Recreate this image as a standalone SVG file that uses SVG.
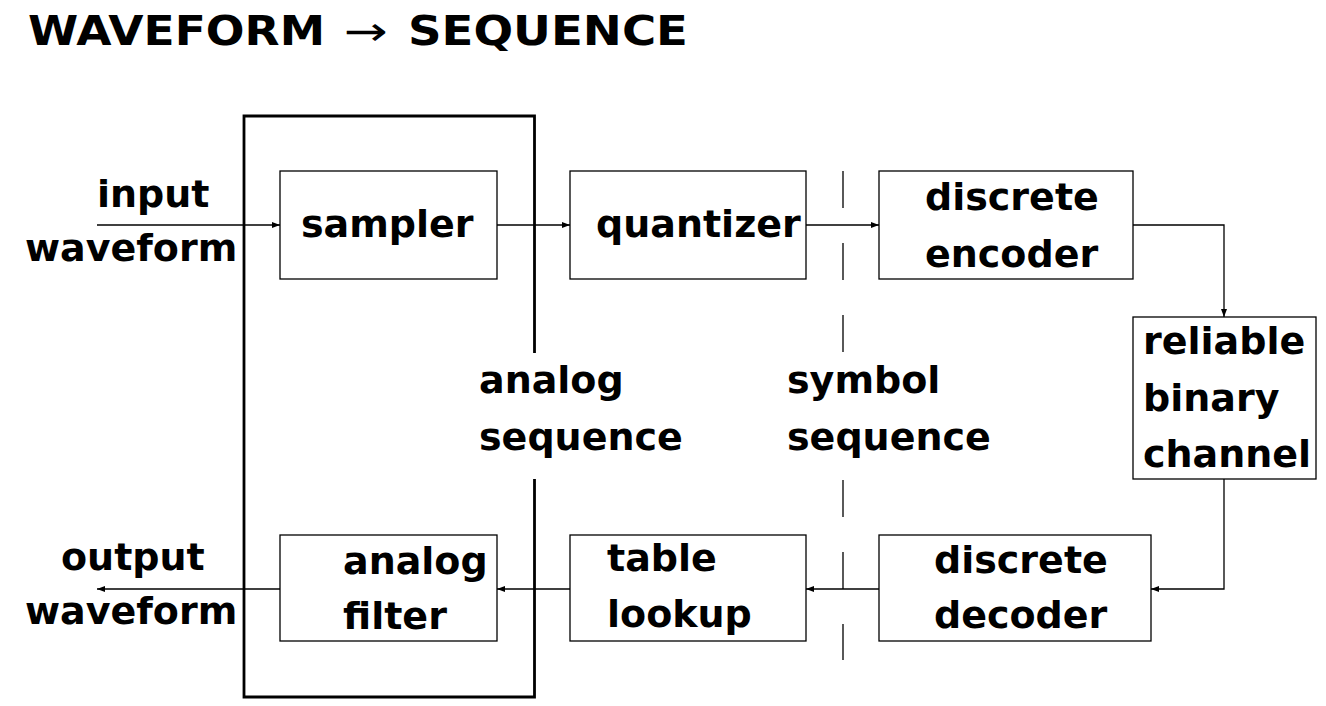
<svg xmlns="http://www.w3.org/2000/svg" width="1326" height="706" viewBox="0 0 1326 706">
<style>
  .lbl { font-family: "DejaVu Sans", "Liberation Sans", sans-serif; font-weight: bold; font-size: 38px; fill: #000; }
  .ttl { font-family: "DejaVu Sans", "Liberation Sans", sans-serif; font-weight: bold; font-size: 40px; fill: #000; }
  .arw { font-family: "DejaVu Sans", "Liberation Sans", sans-serif; font-weight: normal; font-size: 40px; fill: #000; }
  .box { fill: none; stroke: #000; stroke-width: 1.3; }
  .frame { fill: none; stroke: #000; stroke-width: 2.8; }
  .dash { fill: none; stroke: #000; stroke-width: 1.3; stroke-dasharray: 37 35; }
  .conn { fill: none; stroke: #000; stroke-width: 1.3; marker-end: url(#ah); }
</style>
<defs>
  <marker id="ah" markerUnits="userSpaceOnUse" markerWidth="9" markerHeight="7" refX="8" refY="3" orient="auto">
    <path d="M0,0 L8,3 L0,6 z" fill="#000"/>
  </marker>
</defs>
<rect width="1326" height="706" fill="#fff"/>

<g id="title">
  <text class="ttl" x="28" y="45" textLength="297" lengthAdjust="spacingAndGlyphs">WAVEFORM</text>
  <text class="arw" x="344" y="45" textLength="44" lengthAdjust="spacingAndGlyphs">→</text>
  <text class="ttl" x="408" y="45" textLength="280" lengthAdjust="spacingAndGlyphs">SEQUENCE</text>
</g>

<g id="analog-frame">
  <path class="frame" d="M534.5,353 L534.5,116 L244,116 L244,697 L534.5,697 L534.5,479"/>
</g>

<g id="symbol-divider">
  <line class="dash" x1="843" y1="171" x2="843" y2="353"/>
  <line class="dash" x1="843" y1="480" x2="843" y2="660"/>
</g>

<g id="input-label">
  <text class="lbl" x="97" y="207">input</text>
  <text class="lbl" x="25" y="261">waveform</text>
</g>
<g id="output-label">
  <text class="lbl" x="61" y="570">output</text>
  <text class="lbl" x="25" y="624">waveform</text>
</g>
<g id="analog-sequence-label">
  <text class="lbl" x="479" y="393">analog</text>
  <text class="lbl" x="479" y="450">sequence</text>
</g>
<g id="symbol-sequence-label">
  <text class="lbl" x="787" y="393">symbol</text>
  <text class="lbl" x="787" y="450">sequence</text>
</g>

<g id="sampler">
  <rect class="box" x="280" y="171" width="217" height="108"/>
  <text class="lbl" x="301" y="237">sampler</text>
</g>
<g id="quantizer">
  <rect class="box" x="570" y="171" width="236" height="108"/>
  <text class="lbl" x="596" y="237">quantizer</text>
</g>
<g id="discrete-encoder">
  <rect class="box" x="879" y="171" width="254" height="108"/>
  <text class="lbl" x="925" y="210">discrete</text>
  <text class="lbl" x="925" y="267">encoder</text>
</g>
<g id="reliable-binary-channel">
  <rect class="box" x="1133" y="317" width="183" height="162"/>
  <text class="lbl" x="1143" y="354">reliable</text>
  <text class="lbl" x="1143" y="411">binary</text>
  <text class="lbl" x="1143" y="467">channel</text>
</g>
<g id="discrete-decoder">
  <rect class="box" x="879" y="535" width="272" height="106"/>
  <text class="lbl" x="934" y="573">discrete</text>
  <text class="lbl" x="934" y="628">decoder</text>
</g>
<g id="table-lookup">
  <rect class="box" x="570" y="535" width="236" height="106"/>
  <text class="lbl" x="607" y="571">table</text>
  <text class="lbl" x="607" y="627">lookup</text>
</g>
<g id="analog-filter">
  <rect class="box" x="280" y="535" width="217" height="106"/>
  <text class="lbl" x="343" y="574">analog</text>
  <text class="lbl" x="343" y="629">filter</text>
</g>

<g id="connectors">
  <line class="conn" x1="97" y1="225" x2="280" y2="225"/>
  <line class="conn" x1="497" y1="225" x2="570" y2="225"/>
  <line class="conn" x1="806" y1="225" x2="879" y2="225"/>
  <polyline class="conn" points="1133,225 1224,225 1224,317"/>
  <polyline class="conn" points="1224,479 1224,589 1151,589"/>
  <line class="conn" x1="879" y1="589" x2="806" y2="589"/>
  <line class="conn" x1="570" y1="589" x2="497" y2="589"/>
  <line class="conn" x1="280" y1="589" x2="97" y2="589"/>
</g>
</svg>
